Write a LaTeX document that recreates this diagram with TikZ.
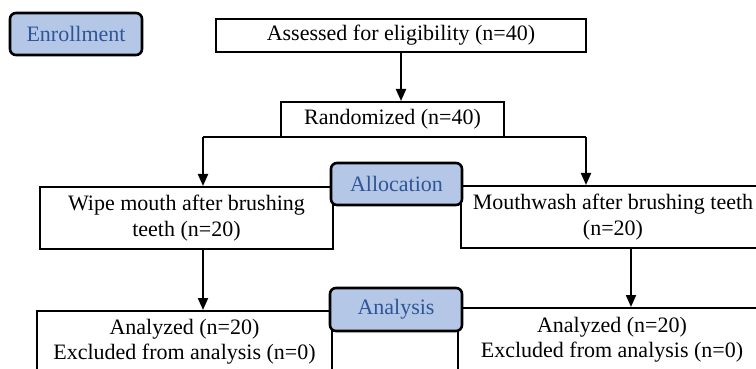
\documentclass[tikz,border=0pt]{standalone}
\usepackage{fontspec}
\setmainfont{Liberation Serif}
\usetikzlibrary{arrows.meta,positioning}
\definecolor{phasefill}{HTML}{B4C7E7}
\definecolor{phasetext}{HTML}{2F5597}

\begin{document}
\begin{tikzpicture}[
  x=0.5pt, y=-0.5pt,
  font=\fontsize{11}{12.6}\selectfont,
  flowblock/.style={rectangle, draw, line width=1pt, fill=white, align=center, inner sep=1pt},
  phaseblock/.style={rectangle, draw, line width=1.3pt, fill=phasefill, text=phasetext, rounded corners=3pt, minimum width=66pt, minimum height=21pt, align=center},
  arrow/.style={-{Triangle[length=6pt, width=5pt]}, line width=1pt},
]
\useasboundingbox (0,0) rectangle (756,369);
\clip (0,0) rectangle (756,369);

\node[flowblock, minimum width=185pt, minimum height=16.5pt] (f-assess) at (401,35.5) {Assessed for eligibility (n=40)};
\node[flowblock, minimum width=111.5pt, minimum height=17.5pt] (f-rand) at (392.5,119.5) {Randomized (n=40)};
\node[flowblock, minimum width=146.5pt, minimum height=31pt] (f-wipe) at (186.5,218) {Wipe mouth after brushing\\teeth (n=20)};
\node[flowblock, minimum width=152pt, minimum height=31pt] (f-wash) at (613,217) {Mouthwash after brushing teeth\\(n=20)};
\node[flowblock, minimum width=147.5pt, minimum height=31pt] (f-anl-l) at (184.5,342) {Analyzed (n=20)\\Excluded from analysis (n=0)};
\node[flowblock, minimum width=154pt, minimum height=32pt] (f-anl-r) at (612,340) {Analyzed (n=20)\\Excluded from analysis (n=0)};

\node[phaseblock] (p-enrol) at (76,34) {Enrollment};
\node[phaseblock, minimum width=65.5pt] (p-alloc) at (396.5,184) {Allocation};
\node[phaseblock, minimum height=21.5pt] (p-analysis) at (396,309.5) {Analysis};

\coordinate (s-l) at (203,137.5);
\coordinate (s-r) at (586,137.5);
\coordinate (d-r) at (631,248);
\draw[arrow] (f-assess.south) -- (f-assess.south |- f-rand.north);
\draw[line width=1pt] (s-l) -- (s-r);
\draw[arrow] (s-l) -- (s-l |- f-wipe.north);
\draw[arrow] (s-r) -- (s-r |- f-wash.north);
\draw[arrow] (s-l |- f-wipe.south) -- (s-l |- f-anl-l.north);
\draw[arrow] (d-r) -- (d-r |- f-anl-r.north);

\end{tikzpicture}
\end{document}
